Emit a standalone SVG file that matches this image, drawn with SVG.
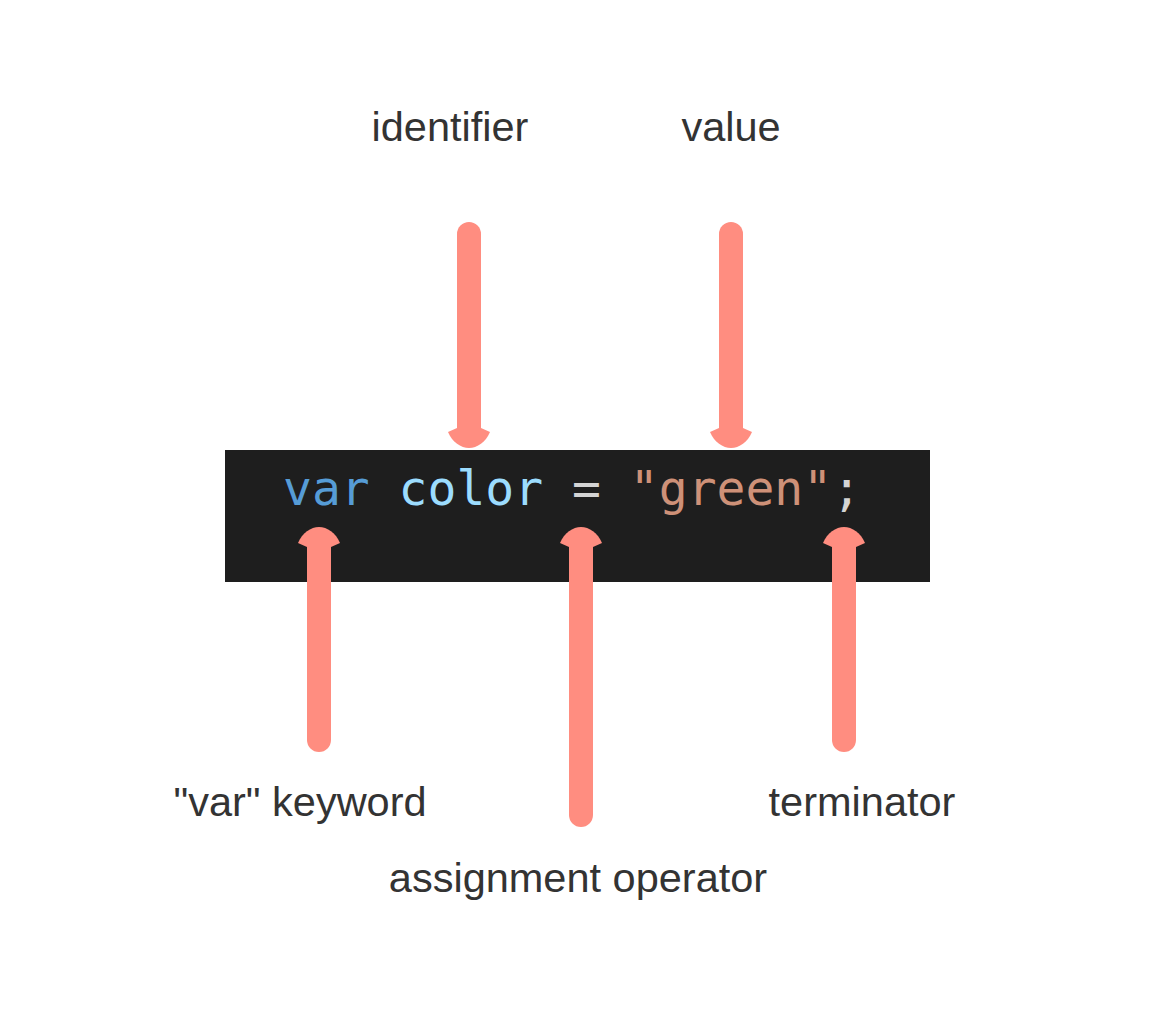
<svg xmlns="http://www.w3.org/2000/svg" xmlns:xlink="http://www.w3.org/1999/xlink" width="1163" height="1013" viewBox="0 0 1163 1013">
  <style>
    .label { font-family: "Liberation Sans", Arial, sans-serif; font-size: 41.5px; fill: #333333; text-anchor: middle; }
    .code { font-family: "DejaVu Sans Mono", "Liberation Mono", monospace; font-size: 48px; }
    .kw { fill: #569cd6; }
    .id { fill: #9cdcfe; }
    .op { fill: #d4d4d4; }
    .str { fill: #ce9178; }
    .shaft { stroke: #ff8d80; stroke-width: 24; stroke-linecap: round; fill: none; }
    .head { fill: #ff8d80; }
  </style>
  <defs>
    <!-- rounded arrowhead, tip at origin, pointing down -->
    <path id="headDown" d="M-21,-16 C-17,-6 -8,0 0,0 C8,0 17,-6 21,-16 L12,-20 L-12,-20 Z"/>
  </defs>

  <rect width="1163" height="1013" fill="#ffffff"/>

  <!-- code line -->
  <g id="code-box">
    <rect x="225" y="450" width="705" height="132" fill="#1e1e1e"/>
    <text class="code" x="283" y="505" xml:space="preserve"><tspan class="kw">var</tspan> <tspan class="id">color</tspan> <tspan class="op">=</tspan> <tspan class="str">"green"</tspan><tspan class="op">;</tspan></text>
  </g>

  <!-- labels -->
  <g id="label-identifier"><text class="label" x="450" y="141">identifier</text></g>
  <g id="label-value"><text class="label" x="731" y="141">value</text></g>
  <g id="label-var"><text class="label" x="300" y="816">"var" keyword</text></g>
  <g id="label-assign"><text class="label" x="578" y="892">assignment operator</text></g>
  <g id="label-terminator"><text class="label" x="862" y="816">terminator</text></g>

  <!-- arrows -->
  <g id="connectors">
    <line class="shaft" x1="469" y1="234" x2="469" y2="430"/>
    <use xlink:href="#headDown" class="head" transform="translate(469,448)"/>

    <line class="shaft" x1="731" y1="234" x2="731" y2="430"/>
    <use xlink:href="#headDown" class="head" transform="translate(731,448)"/>

    <line class="shaft" x1="319" y1="545" x2="319" y2="740"/>
    <use xlink:href="#headDown" class="head" transform="translate(319,527) scale(1,-1)"/>

    <line class="shaft" x1="581" y1="545" x2="581" y2="815"/>
    <use xlink:href="#headDown" class="head" transform="translate(581,527) scale(1,-1)"/>

    <line class="shaft" x1="844" y1="545" x2="844" y2="740"/>
    <use xlink:href="#headDown" class="head" transform="translate(844,527) scale(1,-1)"/>
  </g>
</svg>
